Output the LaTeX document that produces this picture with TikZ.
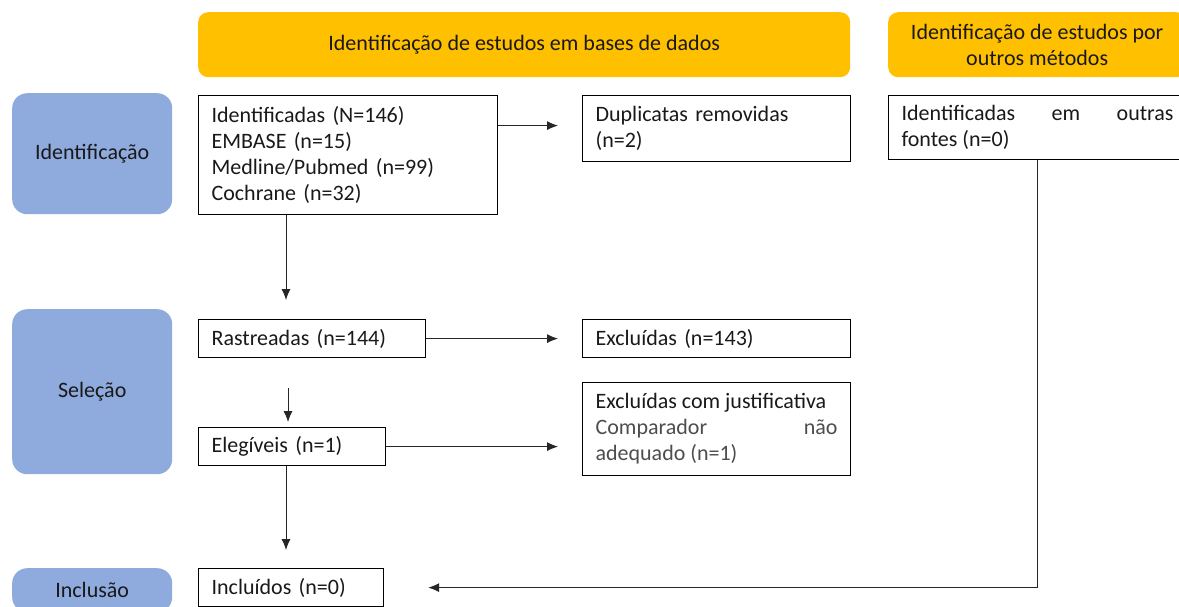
\documentclass[tikz,border=0pt]{standalone}
\usepackage{fontspec}
\setmainfont{Carlito}
\usetikzlibrary{arrows.meta}
\definecolor{gold}{HTML}{FFC000}
\definecolor{stageblue}{HTML}{8FAADC}
\definecolor{textgray}{HTML}{4D4D4D}
\tikzset{every node/.style={font=\fontsize{22}{26}\selectfont, anchor=north west, text=black!90},
  stage/.style={fill=stageblue, rounded corners=15pt, minimum width=160pt, inner sep=0pt},
  header/.style={fill=gold, rounded corners=10pt, minimum height=65pt, inner sep=0pt, align=center},
  box/.style={draw=black, line width=1.2pt, inner xsep=13pt, inner ysep=0pt, align=left},
  arrow/.style={draw=black!85, line width=0.9pt, -{Latex[length=11pt,width=9pt]}}}
\begin{document}
\begin{tikzpicture}[x=1pt,y=-1pt]
   \clip (0,0) rectangle (1179,606);
   % fases
   \node[stage, minimum height=121pt] (sid) at (12,93) {Identificação};
   \node[stage, minimum height=165pt] (ssel) at (12,309) {Seleção};
   \node[stage, minimum height=44pt] (sinc) at (12,568) {Inclusão};
   % cabecalhos
   \node[header, minimum width=652pt] (hbase) at (198,12) {Identificação de estudos em bases de dados};
   \node[header, minimum width=298pt] (houtros) at (888,12) {Identificação de estudos por\\outros métodos};
   % caixas
   \node[box, text width=273pt, minimum height=119pt] (ident) at (198,95)
     {Identificadas (N=146)\\EMBASE (n=15)\\Medline/Pubmed (n=99)\\Cochrane (n=32)};
   \node[box, text width=242pt, minimum height=66pt] (dup) at (582,95) {Duplicatas removidas\\(n=2)};
   \node[box, text width=272pt, minimum height=64pt, align=justify] (fontes) at (888,95)
     {Identificadas em outras\linebreak fontes (n=0)};
   \node[box, text width=201pt, minimum height=38pt] (rast) at (198,319) {Rastreadas (n=144)};
   \node[box, text width=242pt, minimum height=38pt] (excl) at (582,319) {Excluídas (n=143)};
   \node[box, text width=161pt, minimum height=38pt] (eleg) at (198,427) {Elegíveis (n=1)};
   \node[box, text width=242pt, minimum height=93pt, align=justify] (just) at (582,382)
     {Excluídas com justificativa\\{\color{textgray}Comparador não\linebreak adequado (n=1)}};
   \node[box, text width=159pt, minimum height=38pt] (incl) at (198,568) {Incluídos (n=0)};
   % setas
   \draw[arrow, shorten >=24pt] ([yshift=3pt]ident.east |- dup.west) -- ([yshift=3pt]dup.west);
   \draw[arrow, shorten >=19pt] ([xshift=88pt]ident.south west) -- ([xshift=88pt]rast.north west);
   \draw[arrow, shorten >=24pt] (rast.east) -- (rast.east -| excl.west);
   \draw[arrow, shorten <=30pt, shorten >=5pt] ([xshift=90pt]rast.south west) -- ([xshift=90pt]eleg.north west);
   \draw[arrow, shorten >=24pt] (eleg.east) -- (eleg.east -| just.west);
   \draw[arrow, shorten >=18pt] ([xshift=88pt]eleg.south west) -- ([xshift=88pt]incl.north west);
   \draw[arrow, shorten >=44pt] (fontes.south) |- (incl.east);
\end{tikzpicture}
\end{document}
